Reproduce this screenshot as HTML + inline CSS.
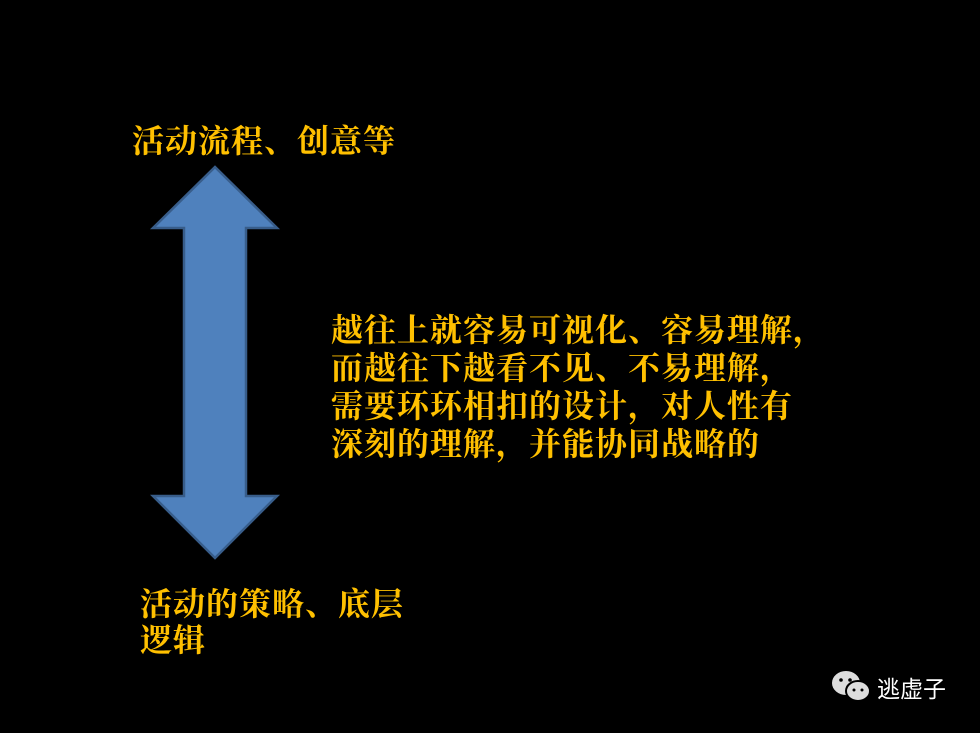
<!DOCTYPE html>
<html><head><meta charset="utf-8"><style>
html,body{margin:0;padding:0;background:#000;width:980px;height:733px;overflow:hidden}
.t{position:absolute;color:#FFC000;font-family:"Noto Serif CJK SC",serif;font-weight:bold;font-size:32px;line-height:38px;white-space:nowrap;letter-spacing:1px}
</style></head><body>
<div class="t" style="left:132px;top:120px">活动流程、创意等</div>
<div class="t" style="left:331px;top:309px">越往上就容易可视化、容易理解，<br>而越往下越看不见、不易理解，<br>需要环环相扣的设计，对人性有<br>深刻的理解，并能协同战略的</div>
<div class="t" style="left:140px;top:584px;line-height:36px">活动的策略、底层<br>逻辑</div>
<svg style="position:absolute;left:0;top:0" width="980" height="733">
<polygon points="215,167 277,228 246,228 246,496 277,496 215,558 153,496 184,496 184,228 153,228" fill="#4F81BD" stroke="#385D8A" stroke-width="2.5" stroke-linejoin="miter"/>
<ellipse cx="846" cy="683" rx="14" ry="12" fill="#ddd"/>
<ellipse cx="858" cy="691" rx="12" ry="10" fill="#ddd" stroke="#000" stroke-width="2"/>
<circle cx="841" cy="680" r="1.8" fill="#000"/><circle cx="850" cy="680" r="1.8" fill="#000"/>
<circle cx="854" cy="690" r="1.5" fill="#000"/><circle cx="862" cy="690" r="1.5" fill="#000"/>
<text x="877" y="697" fill="#fff" font-family="Liberation Sans,Noto Sans CJK SC,sans-serif" font-size="23">逃虚子</text>
</svg>
</body></html>
